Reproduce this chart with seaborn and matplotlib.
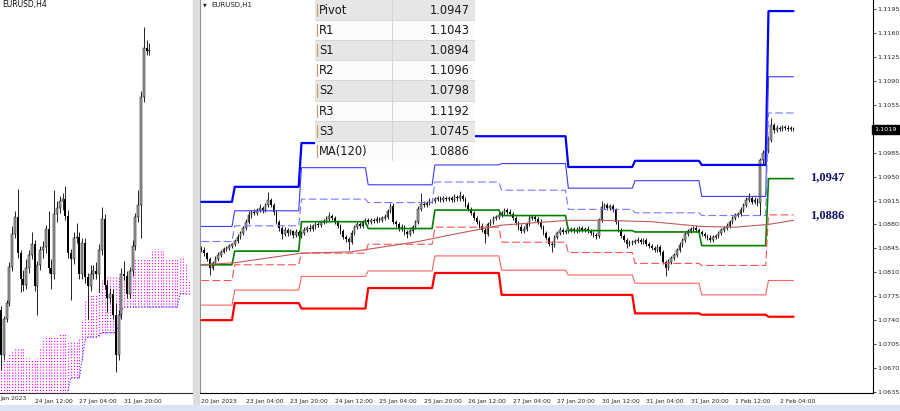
import numpy as np
import pandas as pd
import matplotlib
matplotlib.use("Agg")
import matplotlib.pyplot as plt
from matplotlib.patches import Rectangle
from matplotlib.transforms import blended_transform_factory
import seaborn as sns

# EURUSD H1, one value per bar from 20 Jan 2023 12:00 to 2 Feb 2023 09:00
# prices in pips above 1.0000
h1_open = [
    846, 843, 838, 830, 816, 824, 830, 836, 840, 844,
    846, 849, 851, 856, 862, 867, 875, 884, 894, 898,
    897, 901, 904, 901, 908, 916, 908, 898, 884, 875,
    866, 872, 867, 870, 865, 869, 863, 868, 872, 875,
    874, 878, 880, 879, 883, 885, 888, 892, 890, 884,
    878, 870, 862, 858, 855, 868, 876, 880, 878, 884,
    886, 884, 886, 885, 888, 887, 890, 891, 900, 907,
    884, 880, 874, 876, 869, 866, 870, 876, 884, 902,
    910, 908, 912, 915, 914, 917, 918, 916, 919, 917,
    918, 916, 920, 918, 921, 917, 909, 903, 897, 890,
    884, 878, 872, 866, 880, 884, 889, 891, 894, 897,
    901, 898, 895, 890, 882, 876, 870, 874, 880, 889,
    891, 888, 884, 876, 868, 860, 852, 850, 862, 867,
    872, 869, 870, 872, 873, 870, 872, 875, 872, 873,
    870, 867, 865, 863, 886, 905, 908, 904, 907, 901,
    884, 872, 863, 857, 851, 853, 854, 856, 857, 854,
    857, 851, 849, 846, 843, 847, 840, 825, 816, 825,
    831, 835, 843, 850, 857, 866, 870, 873, 875, 872,
    869, 866, 863, 860, 857, 862, 863, 867, 872, 875,
    878, 884, 889, 894, 895, 901, 908, 916, 919, 913,
    916, 911, 974, 984, 988, 1003, 1025, 1018, 1021, 1019,
    1023, 1021, 1019, 1021]
h1_close = [
    843, 838, 830, 816, 824, 830, 836, 840, 844, 846,
    849, 851, 856, 862, 867, 875, 884, 894, 898, 897,
    901, 904, 901, 908, 916, 908, 898, 884, 875, 866,
    872, 867, 870, 865, 869, 863, 868, 872, 875, 874,
    878, 880, 879, 883, 885, 888, 892, 890, 884, 878,
    870, 862, 858, 855, 868, 876, 880, 878, 884, 886,
    884, 886, 885, 888, 887, 890, 891, 900, 907, 884,
    880, 874, 876, 869, 866, 870, 876, 884, 902, 910,
    908, 912, 915, 914, 917, 918, 916, 919, 917, 918,
    916, 920, 918, 921, 917, 909, 903, 897, 890, 884,
    878, 872, 866, 880, 884, 889, 891, 894, 897, 901,
    898, 895, 890, 882, 876, 870, 874, 880, 889, 891,
    888, 884, 876, 868, 860, 852, 850, 862, 867, 872,
    869, 870, 872, 873, 870, 872, 875, 872, 873, 870,
    867, 865, 863, 886, 905, 908, 904, 907, 901, 884,
    872, 863, 857, 851, 853, 854, 856, 857, 854, 857,
    851, 849, 846, 843, 847, 840, 825, 816, 825, 831,
    835, 843, 850, 857, 866, 870, 873, 875, 872, 869,
    866, 863, 860, 857, 862, 863, 867, 872, 875, 878,
    884, 889, 894, 895, 901, 908, 916, 919, 913, 916,
    911, 974, 984, 988, 1003, 1025, 1018, 1021, 1019, 1023,
    1021, 1019, 1021, 1019]
# wick length above / below the body, pips
h1_wick_up = [
    3, 4, 2, 3, 3, 4, 3, 2, 3, 2, 3, 2, 3, 4, 3, 3, 4, 5, 3, 4,
    3, 6, 3, 4, 11, 3, 4, 3, 2, 3, 4, 3, 3, 2, 4, 3, 3, 4, 3, 5,
    3, 3, 4, 3, 3, 4, 6, 3, 3, 2, 3, 3, 2, 3, 4, 3, 3, 4, 3, 3,
    4, 3, 3, 4, 3, 3, 4, 3, 5, 4, 3, 3, 4, 3, 3, 4, 3, 3, 5, 16,
    4, 3, 3, 4, 3, 3, 4, 3, 3, 4, 3, 4, 3, 8, 3, 3, 4, 3, 3, 3,
    3, 4, 3, 3, 4, 3, 3, 4, 3, 3, 3, 4, 3, 3, 3, 4, 3, 3, 5, 3,
    3, 3, 4, 3, 3, 3, 4, 3, 3, 4, 3, 3, 4, 3, 3, 4, 3, 3, 3, 4,
    3, 3, 3, 4, 10, 3, 4, 3, 3, 3, 3, 3, 3, 3, 4, 3, 3, 4, 3, 3,
    3, 4, 3, 3, 4, 3, 3, 3, 4, 3, 3, 3, 4, 3, 3, 4, 3, 3, 4, 3,
    3, 3, 3, 4, 3, 3, 4, 3, 3, 4, 3, 4, 3, 3, 4, 3, 4, 7, 3, 4,
    3, 3, 5, 4, 6, 10, 3, 4, 3, 3, 3, 4, 3, 2]
h1_wick_dn = [
    3, 4, 3, 10, 3, 3, 3, 3, 2, 3, 3, 3, 2, 3, 3, 3, 3, 3, 4, 3,
    3, 3, 4, 3, 3, 3, 4, 3, 4, 8, 3, 4, 3, 5, 3, 4, 3, 3, 3, 3,
    3, 4, 3, 3, 3, 3, 3, 4, 3, 3, 4, 3, 4, 12, 3, 3, 3, 3, 3, 3,
    3, 3, 3, 3, 3, 3, 3, 3, 3, 3, 4, 3, 3, 4, 6, 3, 3, 3, 3, 3,
    3, 3, 3, 3, 3, 3, 3, 3, 3, 3, 3, 3, 3, 3, 3, 3, 3, 3, 3, 3,
    3, 3, 13, 3, 3, 3, 3, 3, 3, 3, 3, 3, 3, 3, 4, 3, 3, 3, 3, 3,
    3, 3, 3, 4, 3, 3, 10, 3, 3, 3, 3, 3, 3, 3, 3, 3, 3, 3, 3, 3,
    3, 3, 5, 3, 3, 3, 3, 3, 3, 3, 3, 3, 3, 6, 3, 3, 3, 3, 3, 3,
    3, 3, 3, 3, 3, 4, 3, 11, 3, 3, 3, 3, 3, 3, 3, 3, 3, 3, 3, 3,
    3, 3, 3, 3, 3, 3, 3, 3, 3, 3, 3, 3, 3, 3, 3, 3, 3, 3, 3, 3,
    4, 17, 5, 4, 3, 3, 4, 3, 3, 3, 3, 3, 3, 2]

# daily pivot levels, one value per trading day (20 Jan .. 2 Feb)
day_bars = [12, 24, 24, 24, 24, 24, 24, 24, 24, 10]
r3 = [1.0913, 1.0935, 1.0999, 1.0979, 1.1009, 1.1009, 1.0964, 1.0973, 1.0967, 1.1192]
r2 = [1.0877, 1.0900, 1.0963, 1.0938, 1.0967, 1.0969, 1.0933, 1.0944, 1.0921, 1.1096]
r1 = [1.0855, 1.0878, 1.0917, 1.0912, 1.0942, 1.0930, 1.0902, 1.0897, 1.0893, 1.1043]
pv = [1.0821, 1.0841, 1.0884, 1.0874, 1.0901, 1.0893, 1.0871, 1.0869, 1.0849, 1.0947]
s1 = [1.0798, 1.0821, 1.0838, 1.0851, 1.0876, 1.0854, 1.0839, 1.0823, 1.0820, 1.0894]
s2 = [1.0762, 1.0784, 1.0804, 1.0812, 1.0834, 1.0813, 1.0806, 1.0794, 1.0777, 1.0798]
s3 = [1.0740, 1.0765, 1.0757, 1.0787, 1.0809, 1.0777, 1.0777, 1.0750, 1.0748, 1.0745]

# MA(120) read at a few bars
ma_bars = [0, 12, 36, 54, 78, 90, 108, 132, 144, 162, 180, 192, 204, 213]
ma_vals = [1.0821, 1.0824, 1.0838, 1.0840, 1.0855, 1.0865, 1.0879, 1.0886,
           1.0886, 1.0884, 1.0877, 1.0876, 1.0880, 1.0886]

# H4 Ichimoku cloud (edges per H4 bar, shifted forward)
kumo_top = [
    1.0813, 1.0813, 1.0813, 1.0817, 1.0819, 1.0821, 1.0821, 1.0821, 1.0821, 1.0814,
    1.0814, 1.0813, 1.0813, 1.0814, 1.0821, 1.0826, 1.0828, 1.0828, 1.0828, 1.0828,
    1.0828, 1.0831, 1.0831, 1.0831, 1.0825, 1.0825, 1.0825, 1.0825, 1.0827, 1.0839,
    1.0853, 1.0857, 1.0857, 1.0857, 1.0857, 1.0859, 1.0866, 1.0871, 1.0869, 1.0869,
    1.0869, 1.0868, 1.0868, 1.0868, 1.0868, 1.0868, 1.0868, 1.0881, 1.0881, 1.0881,
    1.0881, 1.0881, 1.0881, 1.0881, 1.0887, 1.0887, 1.0887, 1.0886, 1.0886, 1.0881,
    1.0881, 1.0881, 1.0881, 1.0881, 1.0881, 1.0881, 1.0878, 1.0866]
kumo_bot = [
    1.0785, 1.0785, 1.0785, 1.0785, 1.0785, 1.0785, 1.0785, 1.0785, 1.0785, 1.0785,
    1.0785, 1.0785, 1.0785, 1.0785, 1.0785, 1.0785, 1.0785, 1.0785, 1.0785, 1.0785,
    1.0785, 1.0785, 1.0785, 1.0785, 1.0793, 1.0801, 1.0801, 1.0801, 1.0801, 1.0813,
    1.0826, 1.0828, 1.0828, 1.0828, 1.0828, 1.0829, 1.0831, 1.0831, 1.0831, 1.0831,
    1.0831, 1.0831, 1.0836, 1.0846, 1.0848, 1.0848, 1.0848, 1.0848, 1.0848, 1.0848,
    1.0848, 1.0848, 1.0848, 1.0848, 1.0848, 1.0848, 1.0848, 1.0848, 1.0848, 1.0848,
    1.0848, 1.0848, 1.0848, 1.0848, 1.0857, 1.0857, 1.0857, 1.0857]

table_names = ['Pivot', 'R1', 'S1', 'R2', 'S2', 'R3', 'S3', 'MA(120)']
table_vals = ['1.0947', '1.1043', '1.0894', '1.1096', '1.0798', '1.1192', '1.0745', '1.0886']

h1_ticks = [0, 16, 32, 48, 64, 80, 96, 112, 128, 144, 160, 176, 192, 208]
h1_labels = ['20 Jan 2023', '23 Jan 04:00', '23 Jan 20:00', '24 Jan 12:00', '25 Jan 04:00',
             '25 Jan 20:00', '26 Jan 12:00', '27 Jan 04:00', '27 Jan 20:00', '30 Jan 12:00',
             '31 Jan 04:00', '31 Jan 20:00', '1 Feb 12:00', '2 Feb 04:00']
h4_ticks = [12, 28, 44]
h4_labels = ['24 Jan 12:00', '27 Jan 04:00', '31 Jan 20:00']
h4_first_label = 'Jan 2023'   # "20 Jan 2023", clipped by the window edge
price_ticks = [1.0635, 1.0670, 1.0705, 1.0740, 1.0775, 1.0810, 1.0845, 1.0880, 1.0915,
               1.0950, 1.0985, 1.1055, 1.1090, 1.1125, 1.1160, 1.1195]
last_price = 1.1019


def candles(ax, x, o, h, l, c, width):
    up = c >= o
    body = np.maximum(np.abs(c - o), 0.00004)
    ax.vlines(x, l, h, color='black', lw=0.6, zorder=2)
    ax.bar(x[up], body[up], bottom=np.minimum(o, c)[up], width=width,
           color='#a9a9a9', edgecolor='black', lw=0.35, zorder=3)
    ax.bar(x[~up], body[~up], bottom=np.minimum(o, c)[~up], width=width,
           color='black', lw=0, zorder=3)


sns.set_style("white")
plt.rcParams['font.family'] = ['Liberation Sans Narrow', 'DejaVu Sans']

W, H = 900, 411
fig = plt.figure(figsize=(9, 4.11), dpi=100)


def box(x0, y0, x1, y1):
    return [x0 / W, 1 - y1 / H, (x1 - x0) / W, (y1 - y0) / H]


# --- H1 data frame
h1 = pd.DataFrame({'bar': np.arange(len(h1_close)),
                   'o': np.array(h1_open) / 10000 + 1,
                   'c': np.array(h1_close) / 10000 + 1})
h1['h'] = np.maximum(h1.o, h1.c) + np.array(h1_wick_up) / 10000
h1['l'] = np.minimum(h1.o, h1.c) - np.array(h1_wick_dn) / 10000

# H4 candles built from the same hourly bars
h1['g'] = h1.bar // 4
h4 = h1.groupby('g').agg(o=('o', 'first'), h=('h', 'max'), l=('l', 'min'), c=('c', 'last')).reset_index()

# ---------------- left panel (H4)
axL = fig.add_axes(box(0, 0, 193, 393))
axL.set_xlim(-0.36, 68.6)
axL.set_ylim(1.07907, 1.10527)
kx = np.arange(len(kumo_top))
axL.vlines(kx, kumo_bot, kumo_top, colors='#ff00ff', linestyles=(0, (1, 1.6)), lw=0.8, zorder=1)
sns.lineplot(x=kx, y=kumo_bot, ax=axL, color='#2a2aff', lw=0.8, linestyle=(0, (1, 1.6)), zorder=1)
candles(axL, h4.g.values, h4.o.values, h4.h.values, h4.l.values, h4.c.values, 0.7)
axL.set_yticks([])
axL.set_xticks(h4_ticks)
axL.set_xticklabels(h4_labels)
for lab in axL.get_xticklabels():
    lab.set_ha('left')
axL.tick_params(axis='x', length=3, width=0.6, pad=1.5, labelsize=4.3, direction='out')
axL.text(0.5 / W, 1 - 398 / H, h4_first_label, transform=fig.transFigure,
         fontsize=4.3, va='center', ha='left')
for s in ['top', 'left']:
    axL.spines[s].set_visible(False)
axL.spines['right'].set_color('#505050')
axL.spines['bottom'].set_color('#303030')
for s in ['right', 'bottom']:
    axL.spines[s].set_linewidth(0.8)
axL.set_xlabel('')
axL.set_ylabel('')

# ---------------- right panel (H1)
axR = fig.add_axes(box(200, 0, 873, 393))
axR.set_xlim(-0.5, 241.6)
axR.set_ylim(1.06335, 1.12082)
candles(axR, h1.bar.values, h1.o.values, h1.h.values, h1.l.values, h1.c.values, 0.55)

lv = pd.DataFrame({'bar': np.arange(sum(day_bars)),
                   'day': np.repeat(np.arange(len(day_bars)), day_bars)})
for name, vals in [('r3', r3), ('r2', r2), ('r1', r1), ('pv', pv), ('s1', s1), ('s2', s2), ('s3', s3)]:
    lv[name] = np.array(vals)[lv.day]

styles = {
    'r3': dict(color='#0000ff', lw=1.6),
    'r2': dict(color='#3c3cff', lw=0.8),
    'r1': dict(color='#7777ff', lw=0.8, linestyle=(0, (7, 3))),
    'pv': dict(color='#008000', lw=1.2),
    's1': dict(color='#ff5050', lw=0.8, linestyle=(0, (7, 3))),
    's2': dict(color='#ff6464', lw=0.8),
    's3': dict(color='#ff0000', lw=1.6),
}
for name, st in styles.items():
    sns.lineplot(data=lv, x='bar', y=name, ax=axR, zorder=4, **st)
sns.lineplot(x=ma_bars, y=ma_vals, ax=axR, color='#c05a5a', lw=0.8, zorder=4)

axR.text(219, 1.0949, '1,0947', family=['Liberation Serif', 'DejaVu Serif'], fontweight='bold',
         fontsize=9, color='#14146e', va='center', ha='left')
axR.text(219, 1.0893, '1,0886', family=['Liberation Serif', 'DejaVu Serif'], fontweight='bold',
         fontsize=9, color='#14146e', va='center', ha='left')

axR.yaxis.tick_right()
axR.set_yticks(price_ticks)
axR.set_yticklabels(['%.4f' % v for v in price_ticks])
axR.tick_params(axis='y', length=2, width=0.6, pad=0.8, labelsize=4.6, direction='out')
axR.set_xticks(h1_ticks)
axR.set_xticklabels(h1_labels)
for lab in axR.get_xticklabels():
    lab.set_ha('left')
axR.tick_params(axis='x', length=3, width=0.6, pad=1.5, labelsize=4.3, direction='out')
axR.text(1.002, last_price, '1.1019', transform=blended_transform_factory(axR.transAxes, axR.transData),
         color='white', fontsize=4.6, va='center', ha='left',
         bbox=dict(boxstyle='square,pad=0.3', fc='black', ec='black'))
axR.spines['top'].set_visible(False)
axR.spines['left'].set_color('#909090')
axR.spines['right'].set_color('black')
axR.spines['bottom'].set_color('black')
for s in ['left', 'right', 'bottom']:
    axR.spines[s].set_linewidth(0.8)
axR.set_xlabel('')
axR.set_ylabel('')

# ---------------- value table
axT = fig.add_axes(box(315, 0, 475, 161))
axT.set_xlim(0, 160)
axT.set_ylim(161, 0)
axT.axis('off')
row_h = 20.1
for i, (nm, val) in enumerate(zip(table_names, table_vals)):
    y0 = i * row_h
    axT.add_patch(Rectangle((0, y0), 160, row_h, fc='#e6e6e6' if i % 2 == 0 else '#fbfbfb', ec='none'))
    axT.plot([0, 160], [y0 + row_h, y0 + row_h], color='#d2d2d2', lw=0.6)
    axT.plot([2, 2], [y0 + 4, y0 + row_h - 4], color='#c89a5a', lw=0.8)
    axT.text(4, y0 + row_h / 2 + 0.5, nm, fontsize=8.3, color='#1a1a1a', va='center', ha='left')
    axT.text(155, y0 + row_h / 2 + 0.5, val, fontsize=8.3, color='#1a1a1a', va='center', ha='right')
axT.plot([77, 77], [0, 161], color='#d0d0d0', lw=0.6)

# ---------------- window furniture
fig.add_artist(Rectangle((193 / W, 6 / H), 7 / W, 1 - 6 / H, transform=fig.transFigure,
                         fc='#dcdcdc', ec='none'))
fig.add_artist(Rectangle((0, 0), 1, 6 / H, transform=fig.transFigure, fc='#dae5f3', ec='none'))
fig.text(2 / W, 1 - 5 / H, 'EURUSD,H4', fontsize=5.5, color='#101010', va='center', ha='left')
fig.text(203 / W, 1 - 5 / H, '\u25bc', family=['DejaVu Sans'], fontsize=3.5, color='#202020',
         va='center', ha='left')
fig.text(211 / W, 1 - 5 / H, 'EURUSD,H1', fontsize=5, color='#202020', va='center', ha='left')

fig.savefig('out.png', dpi=100)
